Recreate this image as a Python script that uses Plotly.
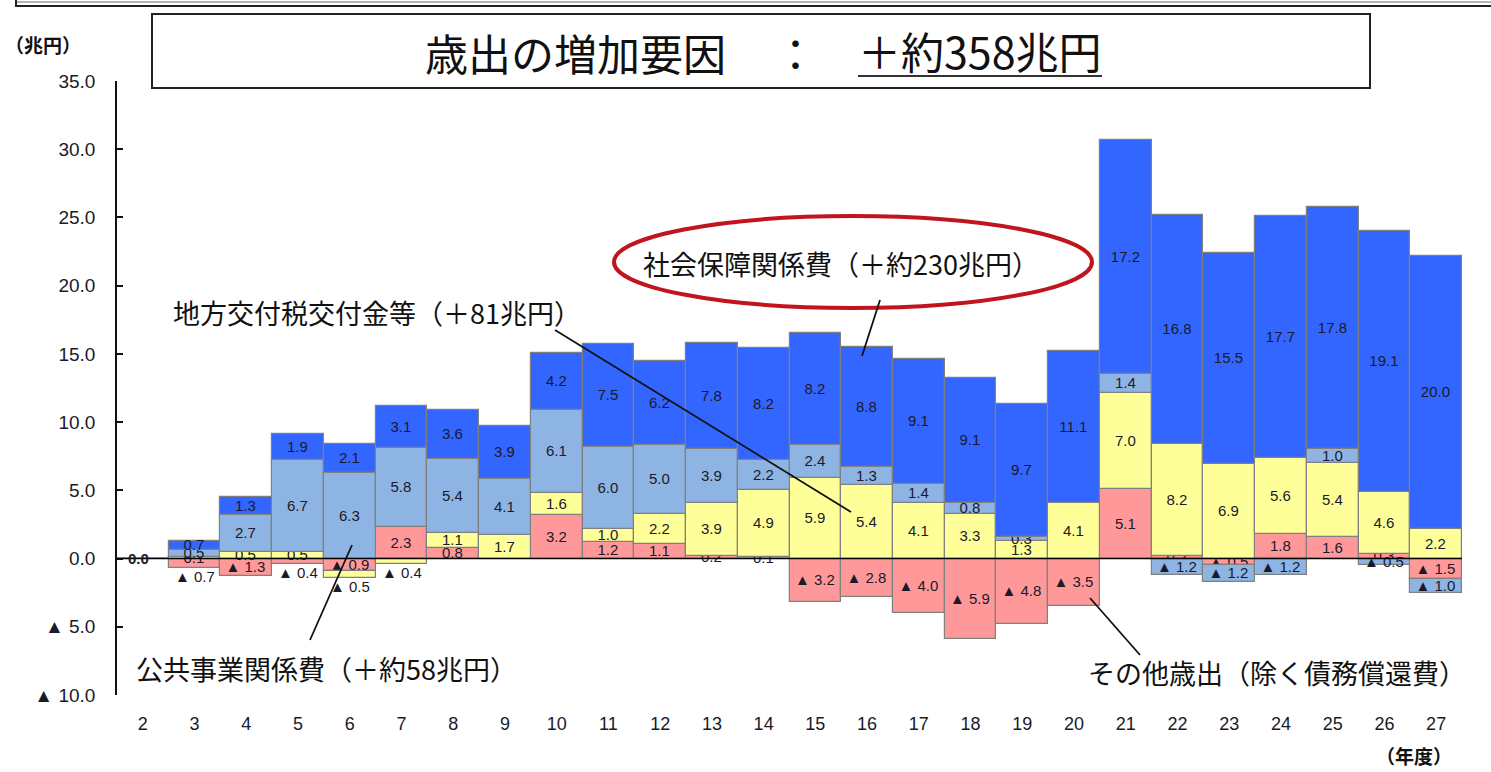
import plotly.graph_objects as go

years = [str(y) for y in range(2, 28)]

# cumulative change vs FY2 (trillion yen), stack order bottom -> top
other    = [0.0, -0.7, -1.3, -0.4, -0.9, 2.3, 0.8, 0.0, 3.2, 1.2, 1.1, 0.2, 0.1,
            -3.2, -2.8, -4.0, -5.9, -4.8, -3.5, 5.1, 0.2, -0.5, 1.8, 1.6, 0.3, -1.5]
local    = [0.0, 0.1, 0.5, 0.5, -0.5, -0.4, 1.1, 1.7, 1.6, 1.0, 2.2, 3.9, 4.9,
            5.9, 5.4, 4.1, 3.3, 1.3, 4.1, 7.0, 8.2, 6.9, 5.6, 5.4, 4.6, 2.2]
public   = [0.0, 0.5, 2.7, 6.7, 6.3, 5.8, 5.4, 4.1, 6.1, 6.0, 5.0, 3.9, 2.2,
            2.4, 1.3, 1.4, 0.8, 0.3, 0.0, 1.4, -1.2, -1.2, -1.2, 1.0, -0.5, -1.0]
social   = [0.0, 0.7, 1.3, 1.9, 2.1, 3.1, 3.6, 3.9, 4.2, 7.5, 6.2, 7.8, 8.2,
            8.2, 8.8, 9.1, 9.1, 9.7, 11.1, 17.2, 16.8, 15.5, 17.7, 17.8, 19.1, 20.0]

series = [
    ("その他歳出", other, "#FF9999"),
    ("地方交付税交付金等", local, "#FFFF99"),
    ("公共事業関係費", public, "#8DB4E2"),
    ("社会保障関係費", social, "#3366FF"),
]

ytickvals = [35, 30, 25, 20, 15, 10, 5, 0, -5, -10]
yticktext = ["35.0", "30.0", "25.0", "20.0", "15.0", "10.0", "5.0", "0.0", "▲ 5.0", "▲ 10.0"]


def fmt(v):
    if v == 0:
        return ""
    if v < 0:
        return "▲ %.1f" % (-v)
    return "%.1f" % v


W, H = 1491, 772
L, R, T, B = 117, 1462, 81, 695
NUMFONT = "Liberation Sans, Arial"
LABEL_COLOR = "#1a1a2a"


def px(xp):
    return (xp - L) / (R - L)


def py(yp):
    return (B - yp) / (B - T)


# small negative segments at the very bottom of a bar get their label below the bar
below_labels = []
texts = {name: [fmt(v) for v in vals] for name, vals, _ in series}
for i, yr in enumerate(years):
    base = 0.0
    last = None
    for si, (name, vals, _) in enumerate(series):
        v = vals[i]
        if v < 0:
            base += v
            last = (si, name, v)
    if last is not None and last[0] <= 1 and -last[2] < 0.8:
        texts[last[1]][i] = ""
        below_labels.append((i, base, fmt(last[2])))

fig = go.Figure()
for name, vals, color in series:
    fig.add_trace(go.Bar(
        x=years, y=vals, name=name,
        marker=dict(color=color, line=dict(color="#808080", width=1.2)),
        text=texts[name],
        textposition="inside", insidetextanchor="middle",
        constraintext="none", textangle=0,
        insidetextfont=dict(family=NUMFONT, size=15, color=LABEL_COLOR),
        hoverinfo="x+y+name",
    ))

shapes = []
# zero line
shapes.append(dict(type="line", xref="paper", yref="y", x0=0, x1=1, y0=0, y1=0,
                   line=dict(color="black", width=1.5), layer="above"))
# page frame at the top
shapes.append(dict(type="line", xref="paper", yref="paper", x0=px(16), x1=px(1491),
                   y0=py(2), y1=py(2), line=dict(color="#9a9a9a", width=1.5)))
shapes.append(dict(type="line", xref="paper", yref="paper", x0=px(16), x1=px(1491),
                   y0=py(6), y1=py(6), line=dict(color="#222", width=2)))
shapes.append(dict(type="line", xref="paper", yref="paper", x0=px(16), x1=px(16),
                   y0=py(0), y1=py(7), line=dict(color="#222", width=2)))
# title box
shapes.append(dict(type="rect", xref="paper", yref="paper", x0=px(152), x1=px(1370),
                   y0=py(88), y1=py(14), line=dict(color="#222", width=2)))
# underline of title amount
shapes.append(dict(type="line", xref="paper", yref="paper", x0=px(858), x1=px(1102),
                   y0=py(76), y1=py(76), line=dict(color="#333", width=2)))
# ellipse
shapes.append(dict(type="circle", xref="paper", yref="paper", x0=px(614), x1=px(1092),
                   y0=py(308), y1=py(216), line=dict(color="#C0141E", width=4)))
# callout lines
for (x0, y0, x1, y1) in [(880, 300, 862, 356), (555, 330, 851, 512),
                         (310, 640, 352, 545), (1090, 598, 1140, 655)]:
    shapes.append(dict(type="line", xref="paper", yref="paper", x0=px(x0), x1=px(x1),
                       y0=py(y0), y1=py(y1), line=dict(color="#111", width=1.8)))

jp = "Noto Sans CJK JP"
annotations = []


def ann(text, xp, yp, size, xanchor="center", color="#111"):
    annotations.append(dict(text=text, x=px(xp), y=py(yp), xref="paper", yref="paper",
                            showarrow=False, xanchor=xanchor, yanchor="middle",
                            font=dict(family=jp, size=size, color=color)))


ann("歳出の増加要因", 575, 52, 43)
ann("：", 795, 52, 43)
ann("＋約358兆円", 856, 50, 43, xanchor="left")
ann("社会保障関係費（＋約230兆円）", 841, 263, 27)
ann("地方交付税交付金等（＋81兆円）", 377, 312, 27)
ann("公共事業関係費（＋約58兆円）", 326, 668, 27)
ann("その他歳出（除く債務償還費）", 1277, 672, 27)
ann("<b>（兆円）</b>", 43, 45, 19)
ann("<b>（年度）</b>", 1414, 755, 19)

# zero labels for the base year (category index 0)
annotations.append(dict(text="<b>0.0</b>", x=0, y=0, xref="x", yref="y",
                        showarrow=False, xanchor="center", yanchor="middle", xshift=-4,
                        font=dict(family=NUMFONT, size=15, color=LABEL_COLOR)))
for idx, base, txt in below_labels:
    annotations.append(dict(text=txt, x=idx, y=base, xref="x", yref="y",
                            showarrow=False, xanchor="center", yanchor="top", yshift=2,
                            font=dict(family=NUMFONT, size=15, color=LABEL_COLOR)))

fig.update_layout(
    width=W, height=H,
    margin=dict(l=L, r=W - R, t=T, b=H - B),
    barmode="relative", bargap=0,
    plot_bgcolor="white", paper_bgcolor="white",
    showlegend=False,
    shapes=shapes, annotations=annotations,
    uniformtext=dict(minsize=15, mode="show"),
    xaxis=dict(type="category", range=[-0.5, 25.5], showline=False, ticks="",
               showgrid=False, zeroline=False,
               tickfont=dict(family=NUMFONT, size=18, color=LABEL_COLOR),
               ticklabelstandoff=16),
    yaxis=dict(range=[-10, 35], tickvals=ytickvals, ticktext=yticktext,
               showline=True, linecolor="#111", linewidth=1.5,
               ticks="inside", ticklen=6, tickcolor="#111", tickwidth=1.5,
               showgrid=False, zeroline=False,
               tickfont=dict(family=NUMFONT, size=19, color=LABEL_COLOR),
               ticklabelstandoff=16),
)

fig.write_html("out.html", config={"displayModeBar": False},
               post_script="document.body.style.margin='0';document.body.style.overflow='hidden';")
